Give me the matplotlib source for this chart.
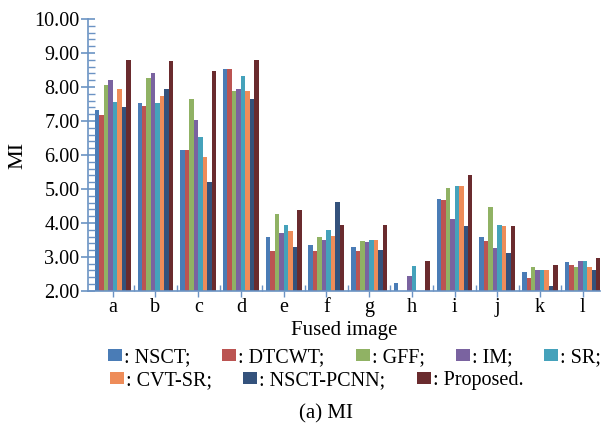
import numpy as np
import matplotlib
matplotlib.use("Agg")
import matplotlib.pyplot as plt
from matplotlib.patches import Patch
from matplotlib.ticker import MultipleLocator, FixedLocator

plt.rcParams["font.family"] = ["Liberation Serif", "DejaVu Serif"]

images = ["a", "b", "c", "d", "e", "f", "g", "h", "i", "j", "k", "l"]
methods = ["NSCT", "DTCWT", "GFF", "IM", "SR", "CVT-SR", "NSCT-PCNN", "Proposed"]
nan = np.nan
nsct      = [7.32, 7.52, 6.16, 8.52, 3.59, 3.35, 3.29, 2.22, 4.71, 3.59, 2.56, 2.85]
dtcwt     = [7.18, 7.45, 6.16, 8.52, 3.18, 3.18, 3.18, nan,  4.66, 3.48, 2.37, 2.76]
gff       = [8.05, 8.28, 7.66, 7.87, 4.27, 3.59, 3.48, nan,  5.03, 4.48, 2.71, 2.71]
im        = [8.20, 8.40, 7.02, 7.93, 3.71, 3.51, 3.43, 2.44, 4.12, 3.27, 2.62, 2.88]
sr        = [7.55, 7.52, 6.52, 8.31, 3.94, 3.80, 3.51, 2.73, 5.09, 3.95, 2.62, 2.88]
cvt_sr    = [7.93, 7.73, 5.93, 7.87, 3.77, 3.62, 3.51, nan,  5.09, 3.91, 2.62, 2.71]
nsct_pcnn = [7.42, 7.93, 5.21, 7.64, 3.30, 4.62, 3.21, nan,  3.91, 3.12, 2.15, 2.62]
proposed  = [8.81, 8.78, 8.47, 8.81, 4.38, 3.95, 3.95, 2.88, 5.40, 3.91, 2.76, 2.98]
series = [nsct, dtcwt, gff, im, sr, cvt_sr, nsct_pcnn, proposed]

colors = ["#4a7cb6", "#bb5452", "#90b264", "#7a63a0", "#45a2bb",
          "#ee8c59", "#34527c", "#6a2b2e"]
AXIS_C = "#6b93c4"
FS = 14.5

fig = plt.figure(figsize=(6.01, 4.24), dpi=100)
ax = fig.add_axes([0.146, 0.314, 0.852, 0.641])

x = np.arange(len(images))
w = 0.105
for i, (vals, c) in enumerate(zip(series, colors)):
    v = np.array(vals, dtype=float)
    ax.bar(x + (i - 3.5) * w, v - 2.0, w, bottom=2.0, color=c, linewidth=0)

ax.set_xlim(-0.585, 11.40)
ax.set_ylim(2.0, 10.0)
ax.yaxis.set_major_locator(MultipleLocator(1.0))
ax.yaxis.set_minor_locator(MultipleLocator(0.2))
ax.set_yticklabels([f"{t:.2f}" for t in ax.get_yticks()])
ax.set_xticks(x)
ax.set_xticklabels(images)
ax.xaxis.set_minor_locator(FixedLocator(x[:-1] + 0.5))

for s in ["top", "right"]:
    ax.spines[s].set_visible(False)
for s in ["left", "bottom"]:
    ax.spines[s].set_color(AXIS_C)
    ax.spines[s].set_linewidth(1.2)

ax.tick_params(axis="y", which="major", direction="inout", length=10, width=1.2,
               color=AXIS_C, labelsize=FS, pad=1)
ax.tick_params(axis="y", which="minor", direction="in", length=5, width=1.0, color=AXIS_C)
ax.tick_params(axis="x", which="major", direction="out", length=4, width=1.0,
               color=AXIS_C, labelsize=FS, pad=1)
ax.tick_params(axis="x", which="minor", direction="in", length=4, width=1.0, color=AXIS_C)

ax.set_ylabel("MI", fontsize=FS + 1.5, labelpad=5)
ax.set_xlabel("Fused image", fontsize=FS + 0.5, labelpad=3)

handles = [Patch(facecolor=c, edgecolor="none") for c in colors]
labels = [f": {m};" for m in methods[:-1]] + [f": {methods[-1]}."]
leg_kw = dict(frameon=False, fontsize=FS, handlelength=0.7, handleheight=0.55,
              handletextpad=0.1, columnspacing=1.55, borderaxespad=0, borderpad=0)
fig.legend(handles[:5], labels[:5], ncol=5, loc="upper left",
           bbox_to_anchor=(0.180, 0.178), **leg_kw)
fig.legend(handles[5:], labels[5:], ncol=3, loc="upper left",
           bbox_to_anchor=(0.183, 0.124), **leg_kw)

fig.text(0.543, 0.024, "(a) MI", ha="center", va="center", fontsize=FS + 0.5)

fig.savefig("out.png", dpi=100)
